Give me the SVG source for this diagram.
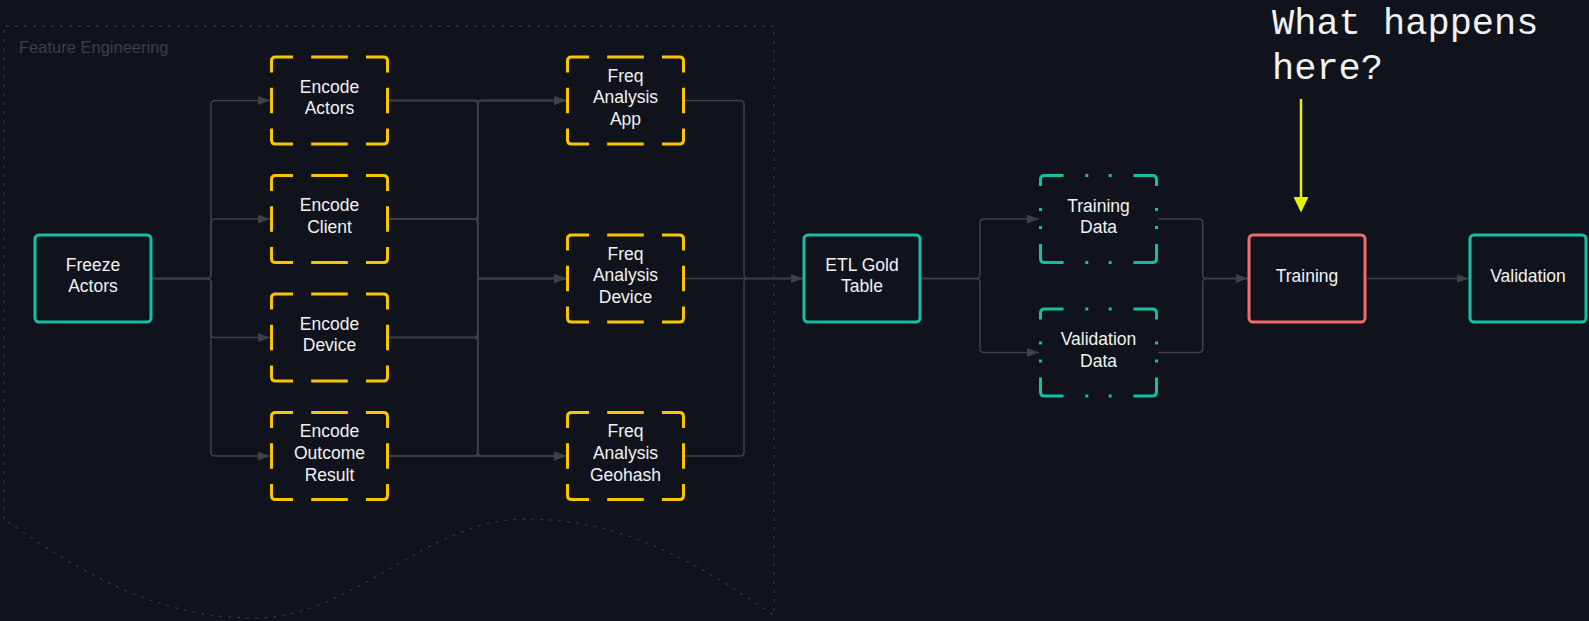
<svg xmlns="http://www.w3.org/2000/svg" xmlns:xlink="http://www.w3.org/1999/xlink" width="1589" height="621" viewBox="0 0 1589 621">
<style>
  .bg { fill: #10131c; }
  .container { fill: none; stroke: #2f343e; stroke-width: 1.3; stroke-dasharray: 3 6; }
  .container-label { font-family: "Liberation Sans", Arial, sans-serif; font-size: 16.5px; fill: #3a3f4a; }
  .solid-teal { fill: #10131c; stroke: #14bfa4; stroke-width: 3; }
  .solid-red { fill: #10131c; stroke: #f06b6b; stroke-width: 3; }
  .frame-yellow { fill: none; stroke: #f7c600; stroke-width: 3; }
  .frame-teal { fill: none; stroke: #14bfa4; stroke-width: 3; }
  .label { font-family: "Liberation Sans", Arial, sans-serif; font-size: 17.5px; fill: #f2f2f2; text-anchor: middle; }
  .edge { fill: none; stroke: #3b4049; stroke-width: 1.5; marker-end: url(#arrow); }
  .note { font-family: "Liberation Mono", "DejaVu Sans Mono", monospace; font-size: 37px; fill: #f2f2f2; }
  .note-arrow { stroke: #e6f000; stroke-width: 2.5; fill: none; }
</style>
<defs>
  <marker id="arrow" markerUnits="userSpaceOnUse" markerWidth="12" markerHeight="9" refX="12" refY="4.5" orient="auto">
    <path d="M0,0 L12,4.5 L0,9 Z" fill="#3b4049"/>
  </marker>
  <path id="yframe" d="M0,15.5 V4 Q0,0 4,0 H21.5 M39.7,0 H76.3 M94.5,0 H112 Q116,0 116,4 V15.5 M116,30.7 V56.3 M116,71.5 V83 Q116,87 112,87 H94.5 M76.3,87 H39.7 M21.5,87 H4 Q0,87 0,83 V71.5 M0,56.3 V30.7"/>
  <path id="tframe" d="M0,10.5 V4 Q0,0 4,0 H23 M44.8,0 H47.8 M68.2,0 H71.2 M93,0 H112 Q116,0 116,4 V10.5 M116,32.5 V35.5 M116,50.5 V53.5 M116,68.5 V83 Q116,87 112,87 H93 M71.2,87 H68.2 M47.8,87 H44.8 M23,87 H4 Q0,87 0,83 V68.5 M0,53.5 V50.5 M0,35.5 V32.5"/>
</defs>
<rect class="bg" x="0" y="0" width="1589" height="621"/>

<g id="feature-engineering">
  <path class="container" d="M4.3,519.3 V26 H774 V615.5 C674,545.5 605,519 525,519 C427,519 353,618 255,618 C175,618 104,590 4.3,519.3"/>
  <text class="container-label" x="19" y="53">Feature Engineering</text>
</g>

<g id="connectors">
  <path class="edge" d="M152.5,278.5 H207 Q211,278.5 211,274.5 V104.5 Q211,100.5 215,100.5 H270"/>
  <path class="edge" d="M152.5,278.5 H207 Q211,278.5 211,274.5 V223 Q211,219 215,219 H270"/>
  <path class="edge" d="M152.5,278.5 H207 Q211,278.5 211,282.5 V333.5 Q211,337.5 215,337.5 H270"/>
  <path class="edge" d="M152.5,278.5 H207 Q211,278.5 211,282.5 V452 Q211,456 215,456 H270"/>

  <path class="edge" d="M389,100.5 H566"/>
  <path class="edge" d="M389,100.5 H473.7 Q477.7,100.5 477.7,104.5 V274.5 Q477.7,278.5 481.7,278.5 H566"/>
  <path class="edge" d="M389,100.5 H473.7 Q477.7,100.5 477.7,104.5 V452 Q477.7,456 481.7,456 H566"/>
  <path class="edge" d="M389,219 H473.7 Q477.7,219 477.7,215 V104.5 Q477.7,100.5 481.7,100.5 H566"/>
  <path class="edge" d="M389,219 H473.7 Q477.7,219 477.7,223 V274.5 Q477.7,278.5 481.7,278.5 H566"/>
  <path class="edge" d="M389,219 H473.7 Q477.7,219 477.7,223 V452 Q477.7,456 481.7,456 H566"/>
  <path class="edge" d="M389,337.5 H473.7 Q477.7,337.5 477.7,333.5 V104.5 Q477.7,100.5 481.7,100.5 H566"/>
  <path class="edge" d="M389,337.5 H473.7 Q477.7,337.5 477.7,333.5 V282.5 Q477.7,278.5 481.7,278.5 H566"/>
  <path class="edge" d="M389,337.5 H473.7 Q477.7,337.5 477.7,341.5 V452 Q477.7,456 481.7,456 H566"/>
  <path class="edge" d="M389,456 H473.7 Q477.7,456 477.7,452 V104.5 Q477.7,100.5 481.7,100.5 H566"/>
  <path class="edge" d="M389,456 H473.7 Q477.7,456 477.7,452 V282.5 Q477.7,278.5 481.7,278.5 H566"/>
  <path class="edge" d="M389,456 H566"/>

  <path class="edge" d="M685,100.5 H740 Q744,100.5 744,104.5 V274.5 Q744,278.5 748,278.5 H802.5"/>
  <path class="edge" d="M685,278.5 H802.5"/>
  <path class="edge" d="M685,456 H740 Q744,456 744,452 V282.5 Q744,278.5 748,278.5 H802.5"/>

  <path class="edge" d="M921.5,278.5 H976 Q980,278.5 980,274.5 V223 Q980,219 984,219 H1039"/>
  <path class="edge" d="M921.5,278.5 H976 Q980,278.5 980,282.5 V348.5 Q980,352.5 984,352.5 H1039"/>

  <path class="edge" d="M1158,219 H1198.7 Q1202.7,219 1202.7,223 V274.5 Q1202.7,278.5 1206.7,278.5 H1247.5"/>
  <path class="edge" d="M1158,352.5 H1198.7 Q1202.7,352.5 1202.7,348.5 V282.5 Q1202.7,278.5 1206.7,278.5 H1247.5"/>

  <path class="edge" d="M1366.5,278.5 H1468.5"/>
</g>

<g id="freeze-actors">
  <rect class="solid-teal" x="35" y="235" width="116" height="87" rx="4"/>
  <text class="label" x="93" y="270.5">Freeze</text>
  <text class="label" x="93" y="292.2">Actors</text>
</g>

<g id="encode-actors">
  <use xlink:href="#yframe" href="#yframe" class="frame-yellow" x="271.5" y="57"/>
  <text class="label" x="329.5" y="92.5">Encode</text>
  <text class="label" x="329.5" y="114.2">Actors</text>
</g>
<g id="encode-client">
  <use xlink:href="#yframe" href="#yframe" class="frame-yellow" x="271.5" y="175.5"/>
  <text class="label" x="329.5" y="211">Encode</text>
  <text class="label" x="329.5" y="232.7">Client</text>
</g>
<g id="encode-device">
  <use xlink:href="#yframe" href="#yframe" class="frame-yellow" x="271.5" y="294"/>
  <text class="label" x="329.5" y="329.5">Encode</text>
  <text class="label" x="329.5" y="351.2">Device</text>
</g>
<g id="encode-outcome-result">
  <use xlink:href="#yframe" href="#yframe" class="frame-yellow" x="271.5" y="412.5"/>
  <text class="label" x="329.5" y="437.2">Encode</text>
  <text class="label" x="329.5" y="458.9">Outcome</text>
  <text class="label" x="329.5" y="480.6">Result</text>
</g>

<g id="freq-analysis-app">
  <use xlink:href="#yframe" href="#yframe" class="frame-yellow" x="567.5" y="57"/>
  <text class="label" x="625.5" y="81.7">Freq</text>
  <text class="label" x="625.5" y="103.4">Analysis</text>
  <text class="label" x="625.5" y="125.1">App</text>
</g>
<g id="freq-analysis-device">
  <use xlink:href="#yframe" href="#yframe" class="frame-yellow" x="567.5" y="235"/>
  <text class="label" x="625.5" y="259.7">Freq</text>
  <text class="label" x="625.5" y="281.4">Analysis</text>
  <text class="label" x="625.5" y="303.1">Device</text>
</g>
<g id="freq-analysis-geohash">
  <use xlink:href="#yframe" href="#yframe" class="frame-yellow" x="567.5" y="412.5"/>
  <text class="label" x="625.5" y="437.2">Freq</text>
  <text class="label" x="625.5" y="458.9">Analysis</text>
  <text class="label" x="625.5" y="480.6">Geohash</text>
</g>

<g id="etl-gold-table">
  <rect class="solid-teal" x="804" y="235" width="116" height="87" rx="4"/>
  <text class="label" x="862" y="270.5">ETL Gold</text>
  <text class="label" x="862" y="292.2">Table</text>
</g>

<g id="training-data">
  <use xlink:href="#tframe" href="#tframe" class="frame-teal" x="1040.5" y="175.5"/>
  <text class="label" x="1098.5" y="211.5">Training</text>
  <text class="label" x="1098.5" y="233.2">Data</text>
</g>
<g id="validation-data">
  <use xlink:href="#tframe" href="#tframe" class="frame-teal" x="1040.5" y="309"/>
  <text class="label" x="1098.5" y="345">Validation</text>
  <text class="label" x="1098.5" y="366.7">Data</text>
</g>

<g id="training">
  <rect class="solid-red" x="1249" y="235" width="116" height="87" rx="4"/>
  <text class="label" x="1307" y="282">Training</text>
</g>

<g id="validation">
  <rect class="solid-teal" x="1470" y="235" width="116" height="87" rx="4"/>
  <text class="label" x="1528" y="282">Validation</text>
</g>

<g id="annotation">
  <text class="note" x="1272" y="33.5">What happens</text>
  <text class="note" x="1272" y="78.5">here?</text>
  <line class="note-arrow" x1="1301" y1="99" x2="1301" y2="198"/>
  <path d="M1293.5,197 L1308.5,197 L1301,212.5 Z" fill="#e6f000"/>
</g>
</svg>
